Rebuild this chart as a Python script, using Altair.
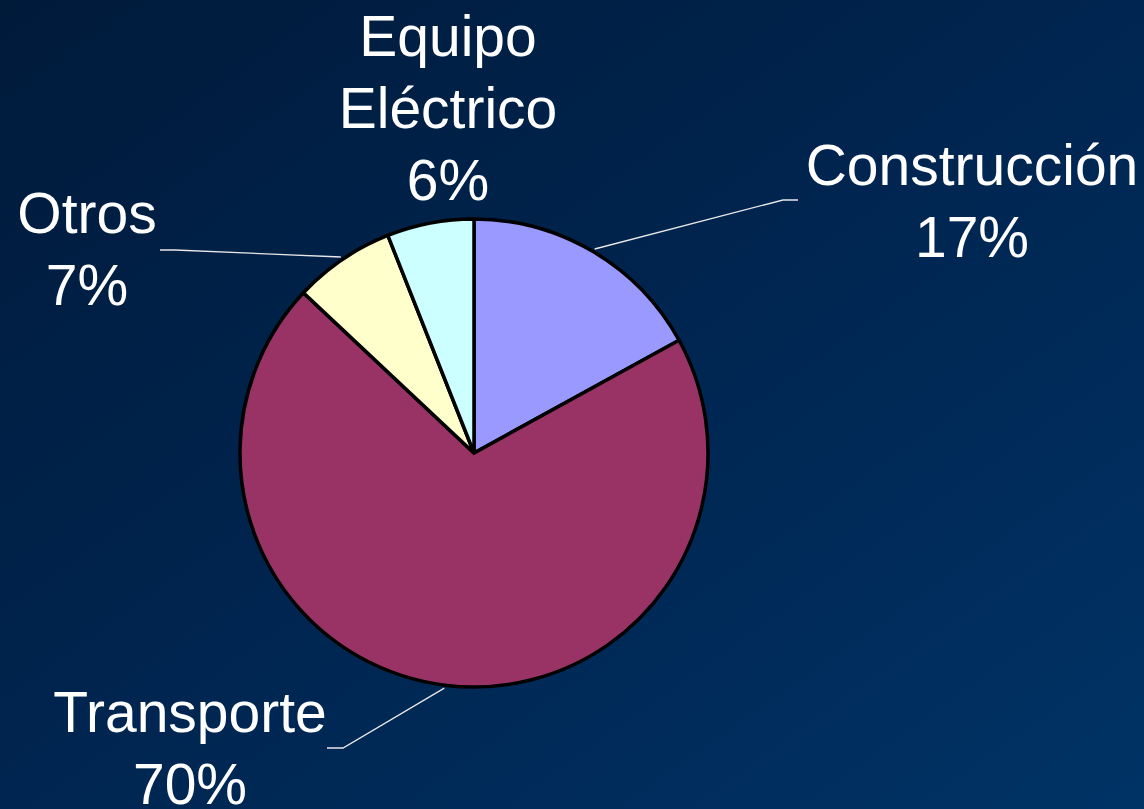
import math
import altair as alt
import pandas as pd

# ---- data ----
categories = ["Construcción", "Transporte", "Otros", "Equipo Eléctrico"]
values = [17, 70, 7, 6]
colors = ["#9999ff", "#993366", "#ffffcc", "#ccffff"]
label_lines = ["Construcción\n17%", "Transporte\n70%", "Otros\n7%", "Equipo\nEléctrico\n6%"]

# ---- layout (pixels) ----
W, H = 1144, 809
CX, CY, R = 474, 453, 234
label_pos = {  # x center, first-line baseline
    "Construcción": (972, 185),
    "Transporte": (190, 732),
    "Otros": (87, 233),
    "Equipo Eléctrico": (448, 56),
}
leader = {  # elbow, end ; None = no leader line
    "Construcción": ((783, 200), (798, 200)),
    "Transporte": ((343, 748), (327, 748)),
    "Otros": ((175, 250), (160, 250)),
    "Equipo Eléctrico": None,
}

df = pd.DataFrame({"cat": categories, "val": values, "order": range(len(values))})

# leader line points computed from slice mid angles
total = sum(values)
rows = []
cum = 0
for c, v in zip(categories, values):
    mid = (cum + v / 2) / total * 2 * math.pi
    cum += v
    if leader[c] is None:
        continue
    sx = CX + (R + 3) * math.sin(mid)
    sy = CY - (R + 3) * math.cos(mid)
    (ex, ey), (fx, fy) = leader[c]
    rows += [
        {"cat": c, "i": 0, "px": sx, "py": sy},
        {"cat": c, "i": 1, "px": ex, "py": ey},
        {"cat": c, "i": 2, "px": fx, "py": fy},
    ]
lines_df = pd.DataFrame(rows)

labels_df = pd.DataFrame({
    "cat": categories,
    "txt": label_lines,
    "lx": [label_pos[c][0] for c in categories],
    "ly": [label_pos[c][1] for c in categories],
})

xs = alt.Scale(domain=[0, W], range=[0, W])
ys = alt.Scale(domain=[0, H], range=[0, H])

bg = alt.Chart(pd.DataFrame({"a": [0]})).mark_rect().encode(
    x=alt.value(0), x2=alt.value(W), y=alt.value(0), y2=alt.value(H),
    color=alt.value({
        "gradient": "linear", "x1": 0, "y1": 0, "x2": 1, "y2": 1,
        "stops": [
            {"offset": 0, "color": "#001a3a"},
            {"offset": 0.5, "color": "#002550"},
            {"offset": 1, "color": "#003366"},
        ],
    }),
)

pie = alt.Chart(df).mark_arc(outerRadius=R, stroke="black", strokeWidth=3.5).encode(
    theta=alt.Theta("val:Q", stack=True),
    order=alt.Order("order:Q"),
    color=alt.Color("cat:N", scale=alt.Scale(domain=categories, range=colors), legend=None),
    x=alt.value(CX),
    y=alt.value(CY),
)

leaders = alt.Chart(lines_df).mark_line(color="#e8e8e8", strokeWidth=1.3).encode(
    x=alt.X("px:Q", scale=xs, axis=None),
    y=alt.Y("py:Q", scale=ys, axis=None),
    detail="cat:N",
    order="i:Q",
)

texts = alt.Chart(labels_df).mark_text(
    font="Liberation Sans", fontSize=57, color="white", align="center",
    baseline="alphabetic", lineBreak="\n", lineHeight=72,
).encode(
    x=alt.X("lx:Q", scale=xs, axis=None),
    y=alt.Y("ly:Q", scale=ys, axis=None),
    text="txt:N",
)

chart = alt.layer(bg, pie, leaders, texts).resolve_scale(color="independent").properties(
    width=W, height=H, padding=0, autosize=alt.AutoSizeParams(type="none"),
    background="#002550",
).configure_view(stroke=None)

chart.save("out.html", embed_options={"renderer": "svg", "actions": False})
